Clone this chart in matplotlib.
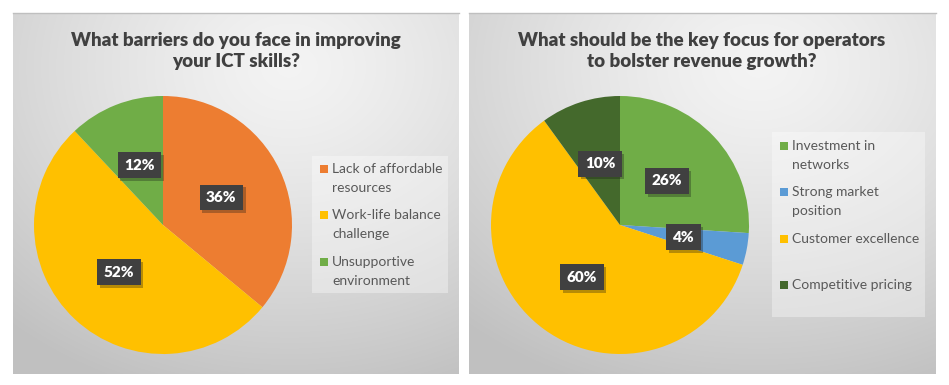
import numpy as np
import matplotlib
matplotlib.use("Agg")
import matplotlib.pyplot as plt
from matplotlib.patches import Rectangle
import matplotlib.patheffects as pe

# data
titles = ["What barriers do you face in improving\nyour ICT skills?",
          "What should be the key focus for operators\nto bolster revenue growth?"]
labels_left = ["Lack of affordable\nresources", "Work-life balance\nchallenge", "Unsupportive\nenvironment"]
values_left = [36, 52, 12]
colors_left = ["#ED7D31", "#FFC000", "#70AD47"]
labels_right = ["Investment in\nnetworks", "Strong market\nposition", "Customer excellence\n ", "Competitive pricing"]
values_right = [26, 4, 60, 10]
colors_right = ["#70AD47", "#5B9BD5", "#FFC000", "#44692C"]

W, H = 949, 385
fig = plt.figure(figsize=(W / 100, H / 100), dpi=100)
ax = fig.add_axes([0, 0, 1, 1])
ax.set_xlim(0, W)
ax.set_ylim(0, H)
ax.axis("off")


def Y(y):
    return H - y


def panel_bg(x0, x1, y0, y1):
    nx, ny = int(x1 - x0), int(y1 - y0)
    xx, yy = np.meshgrid(np.linspace(0, 1, nx), np.linspace(0, 1, ny))
    d = np.sqrt((xx - 0.62) ** 2 + (yy - 0.15) ** 2)
    d = np.clip(d / 0.95, 0, 1)
    g = 0.955 - 0.2 * d ** 1.3
    img = np.dstack([g, g, g])
    ax.imshow(img, extent=(x0, x1, Y(y1), Y(y0)), origin="upper", zorder=0, aspect="auto")
    ax.plot([x0, x1], [Y(y0), Y(y0)], color="#bfbfbf", lw=1, zorder=1)


def draw_chart(title, values, colors, labels, cx, tx, leg_box, leg_x, leg_ys):
    ax.text(tx, Y(51), title, ha="center", va="center", fontsize=13.5, fontweight="heavy",
            color="#404040", family="Lato", linespacing=1.25, zorder=3)
    wedges, _, autotexts = ax.pie(values, colors=colors, startangle=90, counterclock=False,
                                  center=(cx, Y(225)), radius=129, autopct=lambda p: f"{p:.0f}%",
                                  pctdistance=0.5, frame=True,
                                  wedgeprops=dict(linewidth=0, zorder=2),
                                  textprops=dict(color="white", fontweight="heavy", fontsize=11,
                                                 family="Lato", zorder=5))
    for t in autotexts:
        t.set_bbox(dict(boxstyle="square,pad=0.42", facecolor="#404040", edgecolor="none",
                        linewidth=0))
        t.get_bbox_patch().set_path_effects([pe.SimplePatchShadow(offset=(2, -2), alpha=0.3),
                                             pe.Normal()])
    bx0, by0, bx1, by1 = leg_box
    ax.add_patch(Rectangle((bx0, Y(by1)), bx1 - bx0, by1 - by0, facecolor="white",
                           alpha=0.35, linewidth=0, zorder=2))
    for lab, col, ly in zip(labels, colors, leg_ys):
        ax.add_patch(Rectangle((leg_x - 12, Y(ly) - 4), 8, 8, facecolor=col, linewidth=0, zorder=3))
        ax.text(leg_x, Y(ly), lab, ha="left", va="top", fontsize=10, color="#595959",
                family="Lato", linespacing=1.72, zorder=3,
                transform=ax.transData + matplotlib.transforms.ScaledTranslation(0, 6 / 100, fig.dpi_scale_trans))


panel_bg(13, 459, 13, 374)
panel_bg(469, 936, 13, 374)

draw_chart(titles[0], values_left, colors_left, labels_left, 163, 236,
           (312, 156, 448, 293), 332, [169, 215, 262])
draw_chart(titles[1], values_right, colors_right, labels_right, 620, 702,
           (772, 132, 925, 317), 792, [146, 192, 239, 285])

ax.set_xlim(0, W)
ax.set_ylim(0, H)
fig.savefig("out.png", dpi=100, facecolor="white")
